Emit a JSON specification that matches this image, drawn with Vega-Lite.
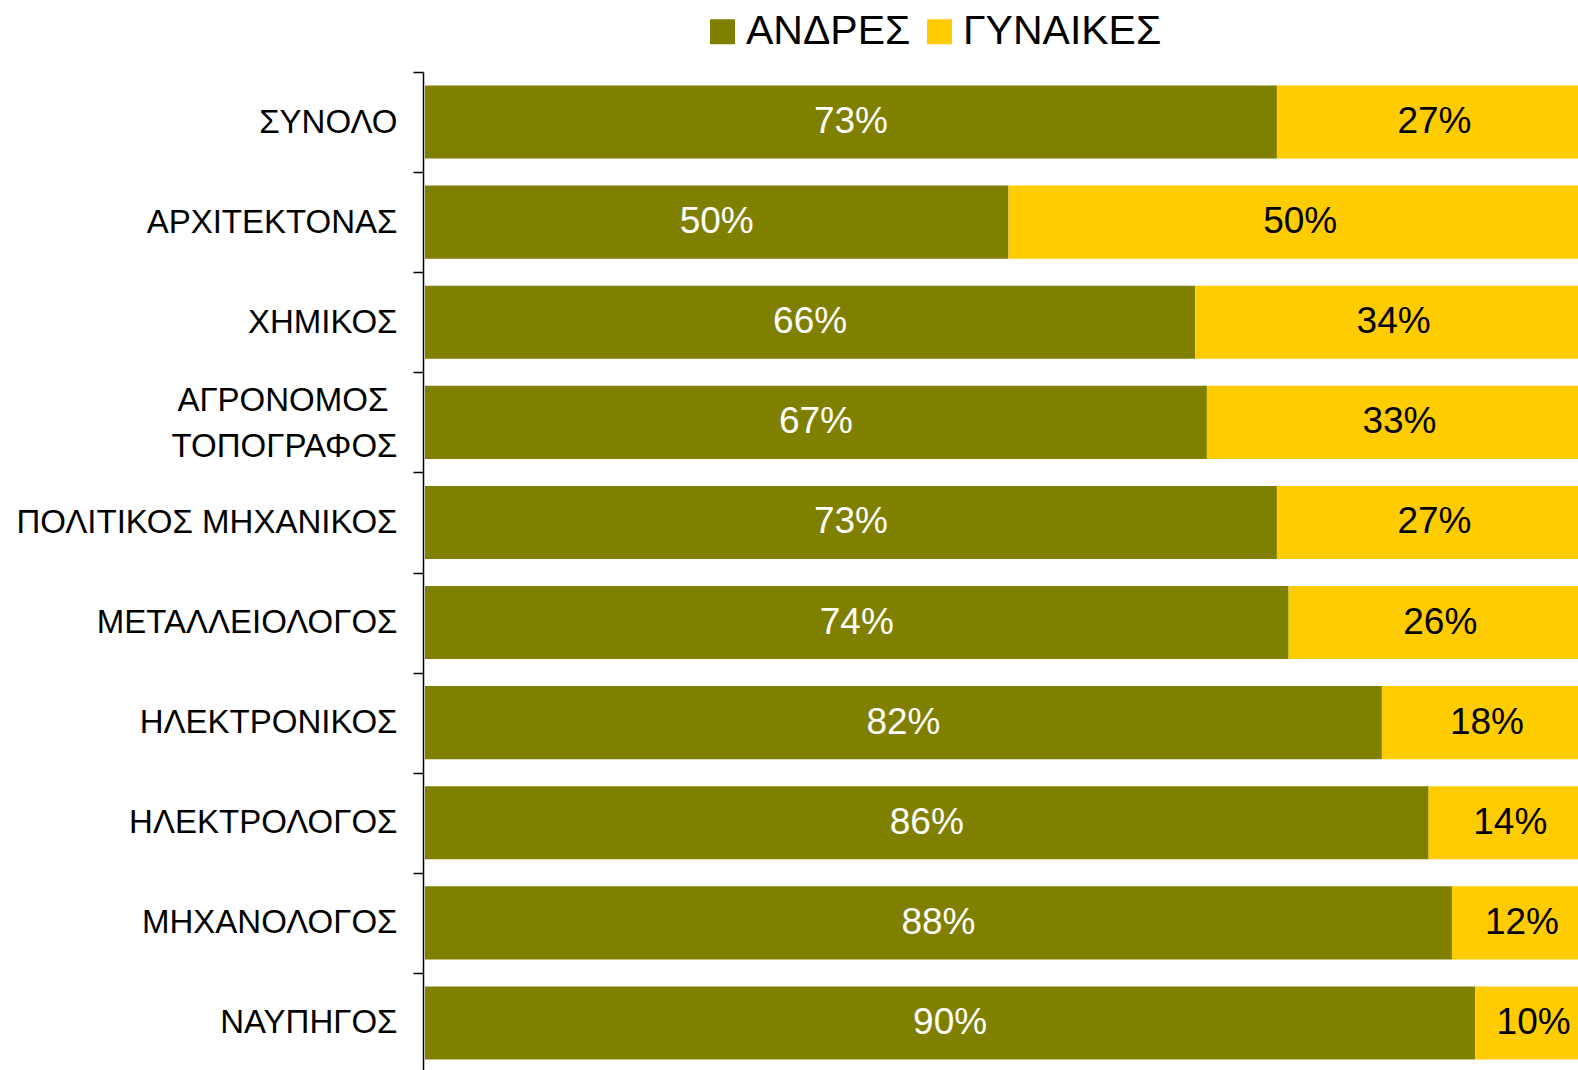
{
  "$schema": "https://vega.github.io/schema/vega-lite/v6.json",
  "autosize": {"type": "none"},
  "padding": {"left": 425, "top": 72, "right": 0, "bottom": 0},
  "width": 1167,
  "height": 1001,
  "background": "white",
  "config": {"view": {"stroke": null}, "font": "Liberation Sans"},
  "data": {"values": [
    {"cat": "ΣΥΝΟΛΟ", "sex": "ΑΝΔΡΕΣ", "pct": 0.73},
    {"cat": "ΣΥΝΟΛΟ", "sex": "ΓΥΝΑΙΚΕΣ", "pct": 0.27},
    {"cat": "ΑΡΧΙΤΕΚΤΟΝΑΣ", "sex": "ΑΝΔΡΕΣ", "pct": 0.50},
    {"cat": "ΑΡΧΙΤΕΚΤΟΝΑΣ", "sex": "ΓΥΝΑΙΚΕΣ", "pct": 0.50},
    {"cat": "ΧΗΜΙΚΟΣ", "sex": "ΑΝΔΡΕΣ", "pct": 0.66},
    {"cat": "ΧΗΜΙΚΟΣ", "sex": "ΓΥΝΑΙΚΕΣ", "pct": 0.34},
    {"cat": "ΑΓΡΟΝΟΜΟΣ ΤΟΠΟΓΡΑΦΟΣ", "sex": "ΑΝΔΡΕΣ", "pct": 0.67},
    {"cat": "ΑΓΡΟΝΟΜΟΣ ΤΟΠΟΓΡΑΦΟΣ", "sex": "ΓΥΝΑΙΚΕΣ", "pct": 0.33},
    {"cat": "ΠΟΛΙΤΙΚΟΣ ΜΗΧΑΝΙΚΟΣ", "sex": "ΑΝΔΡΕΣ", "pct": 0.73},
    {"cat": "ΠΟΛΙΤΙΚΟΣ ΜΗΧΑΝΙΚΟΣ", "sex": "ΓΥΝΑΙΚΕΣ", "pct": 0.27},
    {"cat": "ΜΕΤΑΛΛΕΙΟΛΟΓΟΣ", "sex": "ΑΝΔΡΕΣ", "pct": 0.74},
    {"cat": "ΜΕΤΑΛΛΕΙΟΛΟΓΟΣ", "sex": "ΓΥΝΑΙΚΕΣ", "pct": 0.26},
    {"cat": "ΗΛΕΚΤΡΟΝΙΚΟΣ", "sex": "ΑΝΔΡΕΣ", "pct": 0.82},
    {"cat": "ΗΛΕΚΤΡΟΝΙΚΟΣ", "sex": "ΓΥΝΑΙΚΕΣ", "pct": 0.18},
    {"cat": "ΗΛΕΚΤΡΟΛΟΓΟΣ", "sex": "ΑΝΔΡΕΣ", "pct": 0.86},
    {"cat": "ΗΛΕΚΤΡΟΛΟΓΟΣ", "sex": "ΓΥΝΑΙΚΕΣ", "pct": 0.14},
    {"cat": "ΜΗΧΑΝΟΛΟΓΟΣ", "sex": "ΑΝΔΡΕΣ", "pct": 0.88},
    {"cat": "ΜΗΧΑΝΟΛΟΓΟΣ", "sex": "ΓΥΝΑΙΚΕΣ", "pct": 0.12},
    {"cat": "ΝΑΥΠΗΓΟΣ", "sex": "ΑΝΔΡΕΣ", "pct": 0.90},
    {"cat": "ΝΑΥΠΗΓΟΣ", "sex": "ΓΥΝΑΙΚΕΣ", "pct": 0.10}
  ]},
  "encoding": {
    "y": {
      "field": "cat", "type": "nominal",
      "sort": ["ΣΥΝΟΛΟ", "ΑΡΧΙΤΕΚΤΟΝΑΣ", "ΧΗΜΙΚΟΣ", "ΑΓΡΟΝΟΜΟΣ ΤΟΠΟΓΡΑΦΟΣ", "ΠΟΛΙΤΙΚΟΣ ΜΗΧΑΝΙΚΟΣ", "ΜΕΤΑΛΛΕΙΟΛΟΓΟΣ", "ΗΛΕΚΤΡΟΝΙΚΟΣ", "ΗΛΕΚΤΡΟΛΟΓΟΣ", "ΜΗΧΑΝΟΛΟΓΟΣ", "ΝΑΥΠΗΓΟΣ"],
      "scale": {"paddingInner": 0.27, "paddingOuter": 0.135},
      "axis": {
        "title": null,
        "offset": 2,
        "domainColor": "black", "domainWidth": 1.5,
        "tickColor": "black", "tickWidth": 1.5, "tickSize": 10, "tickOffset": -50,
        "labelFont": "Liberation Sans", "labelFontSize": 33, "labelColor": "black",
        "labelPadding": 16, "labelLimit": 500, "labelLineHeight": 46,
        "labelOffset": {"condition": {"test": "datum.value == 'ΑΓΡΟΝΟΜΟΣ ΤΟΠΟΓΡΑΦΟΣ'", "value": 28}, "value": 50},
        "labelExpr": "datum.value == 'ΑΓΡΟΝΟΜΟΣ ΤΟΠΟΓΡΑΦΟΣ' ? ['ΑΓΡΟΝΟΜΟΣ\u00a0\u200b', 'ΤΟΠΟΓΡΑΦΟΣ'] : datum.value"
      }
    },
    "x": {
      "field": "pct", "type": "quantitative", "stack": "zero",
      "scale": {"domain": [0, 1]},
      "axis": null
    }
  },
  "layer": [
    {
      "mark": {"type": "bar"},
      "encoding": {
        "color": {
          "field": "sex", "type": "nominal",
          "scale": {"domain": ["ΑΝΔΡΕΣ", "ΓΥΝΑΙΚΕΣ"], "range": ["#808000", "#FFCC00"]},
          "legend": {
            "title": null, "orient": "none", "direction": "horizontal",
            "legendX": 277, "legendY": -61, "padding": 0,
            "symbolType": "square", "symbolSize": 625, "symbolStrokeWidth": 0, "symbolOpacity": 1,
            "labelFont": "Liberation Sans", "labelFontSize": 41, "labelColor": "black",
            "labelOffset": 3, "columnPadding": 8, "labelLimit": 400
          }
        },
        "order": {"field": "sex", "sort": "ascending"}
      }
    },
    {
      "mark": {"type": "text", "font": "Liberation Sans", "fontSize": 37, "baseline": "middle", "align": "center"},
      "encoding": {
        "x": {"field": "pct", "type": "quantitative", "stack": "zero", "bandPosition": 0.5},
        "text": {"field": "pct", "type": "quantitative", "format": ".0%"},
        "fill": {"condition": {"test": "datum.sex === 'ΑΝΔΡΕΣ'", "value": "white"}, "value": "black"},
        "detail": {"field": "sex"},
        "order": {"field": "sex", "sort": "ascending"}
      }
    }
  ]
}
